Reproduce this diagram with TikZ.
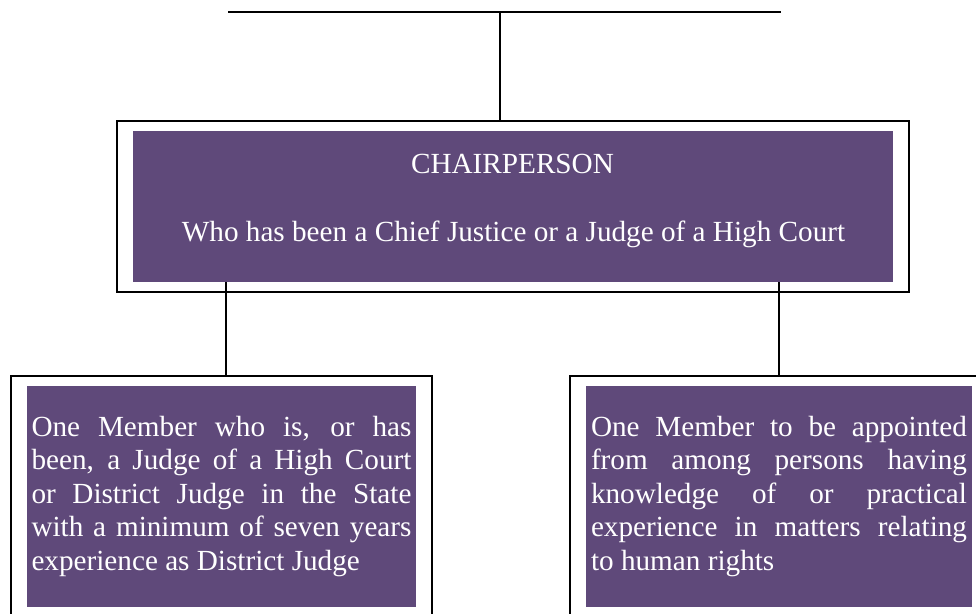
\documentclass[tikz,border=0pt]{standalone}
\usepackage{fontspec}
\setmainfont{Liberation Serif}
\usetikzlibrary{fit}
\definecolor{boxpurple}{RGB}{95,73,122}
\tolerance=10000
\hbadness=10000
\hyphenpenalty=10000

\begin{document}
\begin{tikzpicture}[x=1pt,y=-1pt,
  boxfont/.style={font=\fontsize{29.2}{33.5}\selectfont},
  purplebox/.style={boxfont, fill=boxpurple, text=white, inner sep=0pt},
  boxtext/.style={boxfont, text=white, inner sep=0pt, anchor=base},
  framebox/.style={draw, line width=1.7pt, inner xsep=16pt, inner ysep=10pt},
  link/.style={line width=1.7pt}]

\useasboundingbox (0,0) rectangle (976,613);

%% chairperson
\node [purplebox, minimum width=760pt, minimum height=151pt] (chair) at (513,206.5) {}; % purple box
\node [framebox, fit=(chair)] (chairframe) {}; % white frame round it
\node [boxtext] (chairtitle) at (512.5,173) {CHAIRPERSON};
\node [boxtext] (chairnote) at (513.5,241) {Who has been a Chief Justice or a Judge of a High Court};

%% members
\node [purplebox, text width=380pt, align=justify, minimum width=389pt, minimum height=221pt] (memberA) at (221.5,496.5)
  {One Member who is, or has\linebreak been, a Judge of a High Court\linebreak or District Judge in the State\linebreak with a minimum of seven years\linebreak experience as District Judge};
\node [framebox, fit=(memberA)] (memberAframe) {};
\node [purplebox, text width=376pt, align=justify, minimum width=386pt, minimum height=221pt] (memberB) at (779,496.5)
  {One Member to be appointed\linebreak from among persons having\linebreak knowledge of or practical\linebreak experience in matters relating\linebreak to human rights};
\node [framebox, fit=(memberB)] (memberBframe) {};

%% connectors
\coordinate (topL) at (228,12);
\coordinate (topR) at (781,12);
\coordinate (topmid) at (500,12);
\draw [link] (topL) -- (topR); % line on top
\draw [link] (topmid) -- (topmid |- chairframe.north); % down to chairperson
\coordinate (dropA) at (226,0);
\draw [link] (dropA |- chair.south) -- (dropA |- memberAframe.north); % left member
\draw [link] (chair.south -| memberBframe.north) -- (memberBframe.north); % right member

\end{tikzpicture}
\end{document}
